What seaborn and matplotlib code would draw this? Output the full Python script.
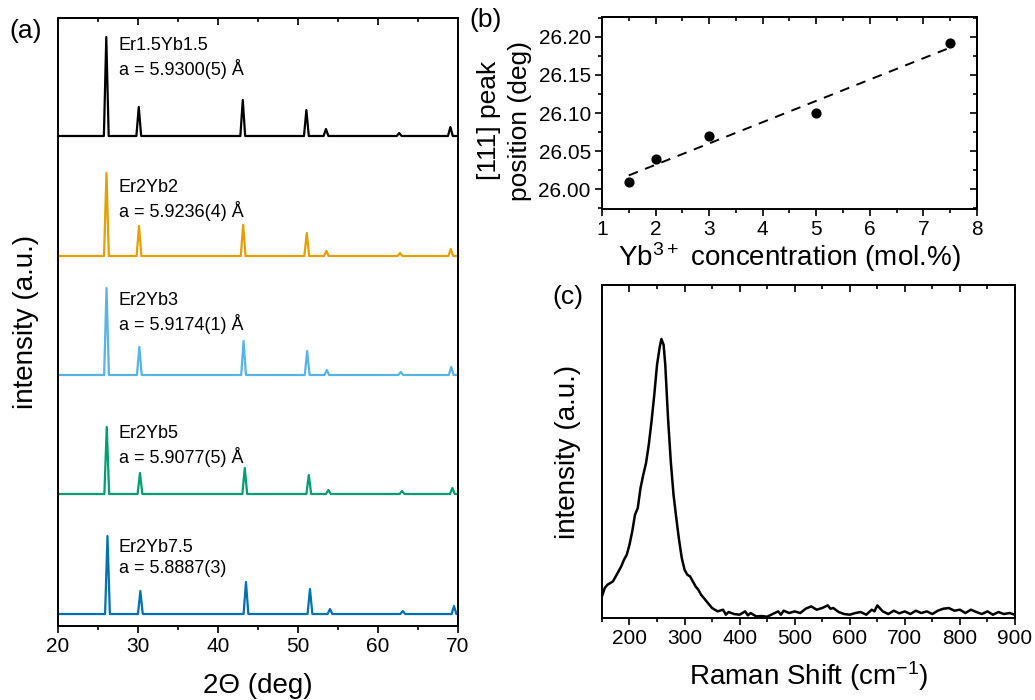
import matplotlib.pyplot as plt
import matplotlib.ticker as mticker
import numpy as np
import pandas as pd
import seaborn as sns

# (a) XRD patterns, peak positions (2theta) and heights
samples = ["Er1.5Yb1.5", "Er2Yb2", "Er2Yb3", "Er2Yb5", "Er2Yb7.5"]
lattice = ["a = 5.9300(5) Å", "a = 5.9236(4) Å", "a = 5.9174(1) Å",
           "a = 5.9077(5) Å", "a = 5.8887(3)"]
trace_colors = ["black", "#E69F00", "#56B4E9", "#009E73", "#0072B2"]
offsets = [490, 370, 251, 132, 12]
peak_pos = [
    [26.04, 30.10, 43.10, 51.05, 53.50, 62.65, 69.05],
    [26.06, 30.13, 43.15, 51.10, 53.55, 62.75, 69.10],
    [26.07, 30.17, 43.20, 51.15, 53.60, 62.85, 69.15],
    [26.10, 30.25, 43.35, 51.35, 53.80, 63.00, 69.30],
    [26.19, 30.30, 43.50, 51.50, 54.00, 63.10, 69.50],
]
peak_height = [
    [99, 29, 36, 26, 7, 3, 9],
    [83, 30, 31, 23, 5, 3, 7],
    [87, 28, 34, 24, 5, 3, 8],
    [67, 21, 26, 19, 4, 3, 6],
    [78, 23, 32, 25, 5, 3, 8],
]
label_y = [568, 426, 313, 180, 68]

# (b) [111] peak position vs Yb concentration
yb_conc = [1.5, 2, 3, 5, 7.5]
peak_111 = [26.01, 26.04, 26.07, 26.10, 26.192]

# (c) Raman spectrum, read point by point
raman_shift = [150, 155, 160, 165, 170, 175, 180, 185, 190, 195, 200, 205, 210, 215,
               220, 225, 230, 235, 240, 245, 250, 255, 258, 262, 265, 270, 275, 280,
               285, 290, 295, 300, 305, 310, 315, 320, 325, 330, 335, 340, 345, 350,
               360, 370, 375, 380, 390, 400, 410, 415, 420, 430, 440, 450, 460, 470,
               475, 480, 490, 500, 510, 520, 530, 540, 550, 560, 565, 570, 580, 590,
               600, 610, 620, 630, 640, 645, 650, 660, 670, 680, 690, 700, 710, 720,
               730, 740, 750, 760, 770, 780, 790, 800, 810, 820, 830, 840, 850, 860,
               870, 880, 890, 900]
raman_int = [0.065, 0.09, 0.10, 0.105, 0.11, 0.125, 0.14, 0.155, 0.175, 0.19, 0.22,
             0.26, 0.31, 0.33, 0.39, 0.43, 0.465, 0.52, 0.59, 0.67, 0.76, 0.815, 0.838,
             0.82, 0.76, 0.60, 0.47, 0.37, 0.30, 0.235, 0.18, 0.145, 0.13, 0.125,
             0.11, 0.095, 0.085, 0.07, 0.06, 0.05, 0.04, 0.03, 0.02, 0.025, 0.01,
             0.018, 0.012, 0.01, 0.02, 0.008, 0.015, 0.005, 0.006, 0.004, 0.012,
             0.02, 0.01, 0.022, 0.015, 0.02, 0.015, 0.028, 0.035, 0.025, 0.03,
             0.038, 0.028, 0.03, 0.018, 0.012, 0.01, 0.015, 0.018, 0.01, 0.025,
             0.02, 0.038, 0.02, 0.012, 0.022, 0.014, 0.02, 0.012, 0.022, 0.015,
             0.02, 0.012, 0.022, 0.028, 0.03, 0.022, 0.025, 0.015, 0.025, 0.018,
             0.012, 0.02, 0.01, 0.018, 0.012, 0.015, 0.01]

sns.set_theme(style="ticks")
plt.rcParams["font.family"] = ["Liberation Sans", "DejaVu Sans"]
plt.rcParams["mathtext.fontset"] = "custom"
plt.rcParams["mathtext.rm"] = "Liberation Sans"
plt.rcParams["mathtext.default"] = "regular"
plt.rcParams["axes.linewidth"] = 1.4
plt.rcParams["axes.edgecolor"] = "black"
plt.rcParams["text.color"] = "black"
plt.rcParams["axes.labelcolor"] = "black"
plt.rcParams["xtick.color"] = "black"
plt.rcParams["ytick.color"] = "black"

LABEL_FS = 20
TICK_FS = 15


def style_ticks(ax, xmajor, xminor, ymajor=None, yminor=None):
    # bottom/left ticks out, mirrored top/right ticks in (Origin look)
    ax.tick_params(which="both", direction="out", width=1.2, colors="black",
                   top=False, right=False, labelsize=TICK_FS, pad=3)
    ax.tick_params(which="major", length=5)
    ax.tick_params(which="minor", length=3)
    ax.xaxis.set_major_locator(mticker.MultipleLocator(xmajor))
    ax.xaxis.set_minor_locator(mticker.MultipleLocator(xminor))
    top = ax.secondary_xaxis("top")
    top.xaxis.set_major_locator(mticker.MultipleLocator(xmajor))
    top.xaxis.set_minor_locator(mticker.MultipleLocator(xminor))
    top.tick_params(which="both", direction="in", width=1.2, labeltop=False)
    top.tick_params(which="major", length=5)
    top.tick_params(which="minor", length=3)
    if ymajor is None:
        ax.set_yticks([])
        return
    ax.yaxis.set_major_locator(mticker.MultipleLocator(ymajor))
    ax.yaxis.set_minor_locator(mticker.MultipleLocator(yminor))
    right = ax.secondary_yaxis("right")
    right.yaxis.set_major_locator(mticker.MultipleLocator(ymajor))
    right.yaxis.set_minor_locator(mticker.MultipleLocator(yminor))
    right.tick_params(which="both", direction="in", width=1.2, labelright=False)
    right.tick_params(which="major", length=5)
    right.tick_params(which="minor", length=3)


fig = plt.figure(figsize=(10.35, 7), dpi=100)
ax_a = fig.add_axes([0.056, 0.1057, 0.3865, 0.8686])
ax_b = fig.add_axes([0.5816, 0.7014, 0.3623, 0.2743])
ax_c = fig.add_axes([0.5816, 0.1171, 0.399, 0.4757])

# ---- (a) XRD ----
half_base = 0.3
for name, lat, col, off, pos, hts, ty in zip(samples, lattice, trace_colors, offsets,
                                            peak_pos, peak_height, label_y):
    xs, ys = [20.0], [off]
    for c, h in zip(pos, hts):
        xs += [c - half_base, c, c + half_base]
        ys += [off, off + h, off]
    xs.append(70.0)
    ys.append(off)
    df = pd.DataFrame({"two_theta": xs, "intensity": ys})
    sns.lineplot(data=df, x="two_theta", y="intensity", ax=ax_a, color=col,
                 lw=1.6, sort=False, estimator=None)
    ax_a.text(27.6, ty, f"{name}\n{lat}", fontsize=13, va="center", ha="left",
              linespacing=1.28)
ax_a.set_xlim(20, 70)
ax_a.set_ylim(0, 608)
style_ticks(ax_a, 10, 5)
ax_a.set_xlabel("2Θ (deg)", fontsize=LABEL_FS, labelpad=12)
ax_a.set_ylabel("intensity (a.u.)", fontsize=LABEL_FS, labelpad=14)

# ---- (b) peak position ----
df_b = pd.DataFrame({"conc": yb_conc, "pos": peak_111})
sns.regplot(data=df_b, x="conc", y="pos", ax=ax_b, ci=None, truncate=True,
            scatter_kws={"color": "black", "s": 40, "alpha": 1, "zorder": 3},
            line_kws={"color": "black", "lw": 1.4, "ls": (0, (5, 4))})
ax_b.set_xlim(1, 8)
ax_b.set_ylim(25.974, 26.226)
style_ticks(ax_b, 1, 0.5, 0.05, 0.025)
ax_b.yaxis.set_major_formatter(mticker.FormatStrFormatter("%.2f"))
ax_b.set_xlabel("Yb$^{3+}$ concentration (mol.%)", fontsize=LABEL_FS, labelpad=1)
ax_b.set_ylabel("[111] peak\nposition (deg)", fontsize=19, labelpad=5,
                linespacing=1.35)
ax_b.yaxis.label.set_y(0.46)

# ---- (c) Raman ----
df_c = pd.DataFrame({"shift": raman_shift, "intensity": raman_int})
sns.lineplot(data=df_c, x="shift", y="intensity", ax=ax_c, color="black", lw=1.8,
             sort=False, estimator=None)
ax_c.set_xlim(150, 900)
ax_c.set_ylim(0, 1)
style_ticks(ax_c, 100, 50)
ax_c.set_xlabel("Raman Shift (cm$^{-1}$)", fontsize=LABEL_FS, labelpad=8)
ax_c.set_ylabel("intensity (a.u.)", fontsize=LABEL_FS, labelpad=15)

fig.text(0.025, 0.956, "(a)", fontsize=19, ha="center", va="center")
fig.text(0.4696, 0.971, "(b)", fontsize=19, ha="center", va="center")
fig.text(0.5488, 0.576, "(c)", fontsize=19, ha="center", va="center")

fig.savefig("out.png", dpi=100)
